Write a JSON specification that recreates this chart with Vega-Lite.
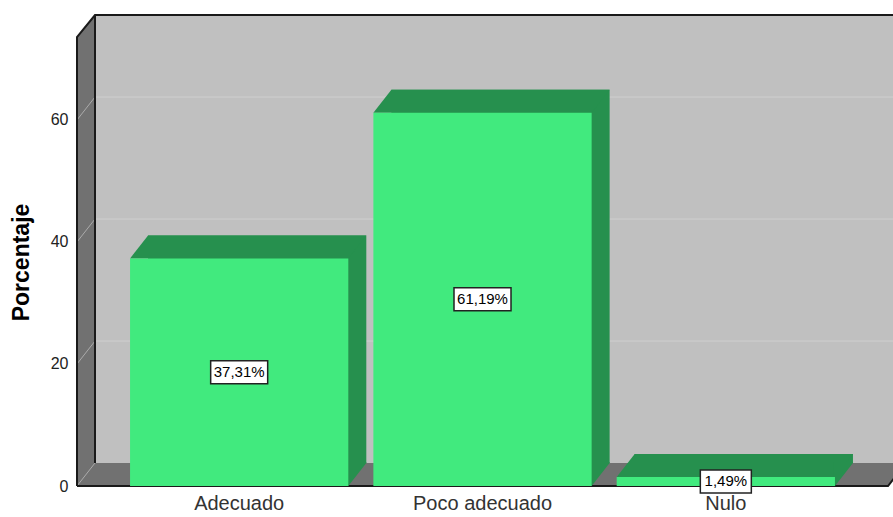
{
  "$schema": "https://vega.github.io/schema/vega-lite/v6.json",
  "width": 798,
  "height": 448,
  "autosize": "none",
  "padding": {"left": 95, "top": 15, "right": 0, "bottom": 54},
  "background": "white",
  "config": {
    "view": {"fill": "#C0C0C0", "stroke": null},
    "font": "Liberation Sans"
  },
  "data": {
    "values": [
      {"categoria": "Adecuado", "porcentaje": 37.31, "etiqueta": "37,31%"},
      {"categoria": "Poco adecuado", "porcentaje": 61.19, "etiqueta": "61,19%"},
      {"categoria": "Nulo", "porcentaje": 1.49, "etiqueta": "1,49%"}
    ]
  },
  "resolve": {"scale": {"y": "independent"}},
  "layer": [
    {
      "data": {"values": [{"v": 20}, {"v": 40}, {"v": 60}]},
      "mark": {"type": "rule", "color": "#cfcfcf", "strokeWidth": 1},
      "encoding": {
        "y": {"field": "v", "type": "quantitative", "scale": {"domain": [0, 73.44], "nice": false}, "axis": null}
      }
    },
    {
      "data": {"values": [{}]},
      "mark": {"type": "point", "shape": "M-18,23L-18,-426L0,-448L0,0Z M-18,23L0,0L811,0L793,23Z", "size": 4, "filled": true, "fill": "#717171", "strokeWidth": 0, "opacity": 1},
      "encoding": {
        "x": {"value": 0},
        "y": {"datum": 0, "type": "quantitative", "scale": {"domain": [0, 73.44], "nice": false}, "axis": null}
      }
    },
    {
      "data": {"values": [{"v": 0}, {"v": 20}, {"v": 40}, {"v": 60}]},
      "mark": {"type": "point", "shape": "M-18,23L0,0", "size": 4, "filled": false, "stroke": "#ababab", "strokeWidth": 1, "opacity": 1},
      "encoding": {
        "x": {"value": 0},
        "y": {"field": "v", "type": "quantitative", "scale": {"domain": [0, 73.44], "nice": false}, "axis": null}
      }
    },
    {
      "data": {"values": [{}]},
      "mark": {"type": "point", "shape": "M-18,23L-18,-426L0,-448L811,-448M0,-448L0,0M-18,23L793,23L811,0", "size": 4, "filled": false, "stroke": "#1a1a1a", "strokeWidth": 2, "opacity": 1},
      "encoding": {
        "x": {"value": 0},
        "y": {"datum": 0, "type": "quantitative", "scale": {"domain": [0, 73.44], "nice": false}, "axis": null}
      }
    },
    {
      "mark": {"type": "bar", "color": "#26904E"},
      "encoding": {
        "x": {
          "field": "categoria", "type": "nominal", "sort": null,
          "scale": {"range": [0, 811], "paddingInner": 0.103, "paddingOuter": 0.218},
          "axis": {"orient": "bottom", "offset": 23, "labelOffset": -18, "ticks": false, "tickSize": 0, "domain": false, "grid": false, "labelAngle": 0, "labelFontSize": 20, "labelColor": "#333333", "labelPadding": 7, "title": null, "zindex": 1}
        },
        "y": {"field": "porcentaje", "type": "quantitative", "scale": {"domain": [0, 73.44], "nice": false}, "axis": null}
      }
    },
    {
      "mark": {"type": "point", "shape": "M-127.13,23L-109.13,0L109.13,0L91.13,23Z", "size": 4, "filled": true, "color": "#26904E", "strokeWidth": 0, "opacity": 1},
      "encoding": {
        "x": {
          "field": "categoria", "type": "nominal", "sort": null,
          "scale": {"range": [0, 811], "paddingInner": 0.103, "paddingOuter": 0.218},
          "axis": {"orient": "bottom", "offset": 23, "labelOffset": -18, "ticks": false, "tickSize": 0, "domain": false, "grid": false, "labelAngle": 0, "labelFontSize": 20, "labelColor": "#333333", "labelPadding": 7, "title": null, "zindex": 1}
        },
        "y": {"field": "porcentaje", "type": "quantitative", "scale": {"domain": [0, 73.44], "nice": false}, "axis": null}
      }
    },
    {
      "mark": {"type": "point", "shape": "M90,-1L109.13,-1L109.13,0L91.13,23L90,23Z", "size": 4, "filled": true, "color": "#26904E", "strokeWidth": 0, "opacity": 1},
      "encoding": {
        "x": {
          "field": "categoria", "type": "nominal", "sort": null,
          "scale": {"range": [0, 811], "paddingInner": 0.103, "paddingOuter": 0.218},
          "axis": {"orient": "bottom", "offset": 23, "labelOffset": -18, "ticks": false, "tickSize": 0, "domain": false, "grid": false, "labelAngle": 0, "labelFontSize": 20, "labelColor": "#333333", "labelPadding": 7, "title": null, "zindex": 1}
        },
        "y": {"datum": 0, "type": "quantitative", "scale": {"domain": [0, 73.44], "nice": false}, "axis": null}
      }
    },
    {
      "mark": {"type": "bar", "color": "#41EA7E", "xOffset": -18, "x2Offset": -18, "yOffset": 23, "y2Offset": 23},
      "encoding": {
        "x": {
          "field": "categoria", "type": "nominal", "sort": null,
          "scale": {"range": [0, 811], "paddingInner": 0.103, "paddingOuter": 0.218},
          "axis": {"orient": "bottom", "offset": 23, "labelOffset": -18, "ticks": false, "tickSize": 0, "domain": false, "grid": false, "labelAngle": 0, "labelFontSize": 20, "labelColor": "#333333", "labelPadding": 7, "title": null, "zindex": 1}
        },
        "y": {
          "field": "porcentaje", "type": "quantitative",
          "scale": {"domain": [0, 73.44], "nice": false},
          "axis": {"orient": "left", "offset": 18, "position": 23, "values": [0, 20, 40, 60], "ticks": false, "tickSize": 0, "domain": false, "grid": false, "labelFontSize": 16, "labelColor": "#222222", "labelPadding": 9, "title": "Porcentaje", "titleFontSize": 23, "titleFontWeight": "bold", "titleColor": "#000000", "titlePadding": 17}
        }
      }
    },
    {
      "mark": {"type": "point", "filled": true, "fill": "white", "stroke": "#222222", "strokeWidth": 1.5, "size": 4, "opacity": 1, "xOffset": -18, "yOffset": 23},
      "encoding": {
        "x": {
          "field": "categoria", "type": "nominal", "sort": null,
          "scale": {"range": [0, 811], "paddingInner": 0.103, "paddingOuter": 0.218},
          "axis": {"orient": "bottom", "offset": 23, "labelOffset": -18, "ticks": false, "tickSize": 0, "domain": false, "grid": false, "labelAngle": 0, "labelFontSize": 20, "labelColor": "#333333", "labelPadding": 7, "title": null, "zindex": 1}
        },
        "y": {"field": "porcentaje", "type": "quantitative", "scale": {"domain": [0, 146.88], "nice": false}, "axis": null},
        "shape": {
          "condition": {"test": "datum.porcentaje < 10", "value": "M-25.5,-11.5L25.5,-11.5L25.5,11.5L-25.5,11.5Z"},
          "value": "M-28.5,-11.5L28.5,-11.5L28.5,11.5L-28.5,11.5Z"
        }
      }
    },
    {
      "mark": {"type": "text", "fontSize": 15, "color": "#000000", "xOffset": -18, "yOffset": 23, "align": "center", "baseline": "middle"},
      "encoding": {
        "x": {
          "field": "categoria", "type": "nominal", "sort": null,
          "scale": {"range": [0, 811], "paddingInner": 0.103, "paddingOuter": 0.218},
          "axis": {"orient": "bottom", "offset": 23, "labelOffset": -18, "ticks": false, "tickSize": 0, "domain": false, "grid": false, "labelAngle": 0, "labelFontSize": 20, "labelColor": "#333333", "labelPadding": 7, "title": null, "zindex": 1}
        },
        "y": {"field": "porcentaje", "type": "quantitative", "scale": {"domain": [0, 146.88], "nice": false}, "axis": null},
        "text": {"field": "etiqueta"}
      }
    }
  ]
}
